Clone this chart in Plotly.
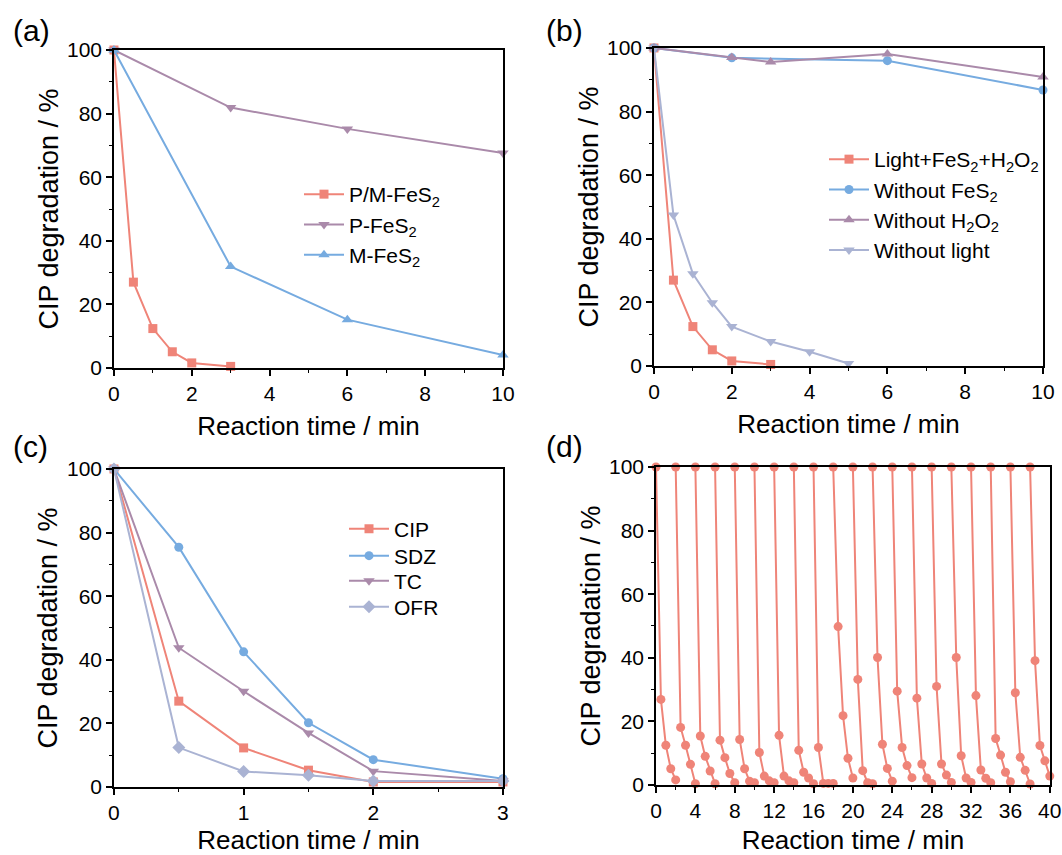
import plotly.graph_objects as go

# ---------------- data ----------------
# (a)
a_x_pm = [0, 0.5, 1, 1.5, 2, 3]
a_y_pm = [100, 27.0, 12.4, 5.1, 1.6, 0.5]
a_x_p = [0, 3, 6, 10]
a_y_p = [100, 81.9, 75.2, 67.6]
a_x_m = [0, 3, 6, 10]
a_y_m = [100, 31.9, 15.2, 4.1]

# (b)
b_x_light = [0, 0.5, 1, 1.5, 2, 3]
b_y_light = [100, 27.0, 12.4, 5.1, 1.6, 0.5]
b_x_nofes2 = [0, 2, 6, 10]
b_y_nofes2 = [100, 96.9, 96.0, 86.8]
b_x_noh2o2 = [0, 2, 3, 6, 10]
b_y_noh2o2 = [100, 97.0, 95.6, 98.1, 90.9]
b_x_nolight = [0, 0.5, 1, 1.5, 2, 3, 4, 5]
b_y_nolight = [100, 47.5, 29.0, 19.9, 12.4, 7.7, 4.5, 0.8]

# (c)
c_x = [0, 0.5, 1, 1.5, 2, 3]
c_y_cip = [100, 27.0, 12.3, 5.3, 1.6, 1.6]
c_y_sdz = [100, 75.4, 42.5, 20.2, 8.6, 2.6]
c_y_tc = [100, 43.8, 30.1, 17.0, 5.0, 1.9]
c_y_ofr = [100, 12.4, 4.9, 3.7, 1.9, 1.9]

# (d) 20 cycles, each sampled at 0, 0.5, 1, 1.5, 2 min (offset 2 min per cycle)
d_cycle_times = [0, 0.5, 1, 1.5, 2]
d_cycle_starts = [0, 2, 4, 6, 8, 10, 12, 14, 16, 18, 20, 22, 24, 26, 28, 30, 32, 34, 36, 38]
d_cycle_values = [
    [100, 26.9, 12.5, 5.1, 1.6],
    [100, 18.1, 12.5, 6.5, 0.4],
    [100, 15.4, 9.0, 4.4, 0.4],
    [100, 14.1, 8.6, 3.6, 0.7],
    [100, 14.3, 5.1, 1.2, 0.7],
    [100, 10.2, 2.8, 1.3, 0.7],
    [100, 15.6, 2.8, 1.3, 0.7],
    [100, 10.9, 4.0, 2.2, 0.4],
    [100, 11.8, 0.5, 0.5, 0.5],
    [100, 49.8, 21.8, 8.4, 2.2],
    [100, 33.2, 4.5, 0.7, 0.4],
    [100, 40.1, 12.8, 5.2, 1.2],
    [100, 29.5, 11.8, 6.1, 2.3],
    [100, 27.3, 6.6, 2.2, 0.5],
    [100, 31.0, 6.6, 3.1, 0.8],
    [100, 40.1, 9.2, 2.2, 0.8],
    [100, 28.1, 4.7, 2.1, 0.7],
    [100, 14.6, 9.4, 4.0, 1.0],
    [100, 29.0, 8.7, 4.6, 0.3],
    [100, 39.1, 12.4, 7.6, 2.8],
]

# ---------------- style ----------------
RED = "#EF8478"
BLUE = "#76ABE0"
PURPLE = "#AA8AAA"
LAV = "#AAB3D3"
FONT = "Liberation Sans, Arial, sans-serif"

fig = go.Figure()


def add(x, y, color, symbol, name, xa, ya, legend, size=9, show=True):
    fig.add_trace(go.Scatter(
        x=x, y=y, mode="lines+markers", name=name,
        line=dict(color=color, width=2),
        marker=dict(color=color, symbol=symbol, size=size, line=dict(width=0)),
        xaxis=xa, yaxis=ya, legend=legend, showlegend=show, cliponaxis=False,
    ))


# (a)
add(a_x_pm, a_y_pm, RED, "square", "P/M-FeS<sub>2</sub>", "x", "y", "legend")
add(a_x_p, a_y_p, PURPLE, "triangle-down", "P-FeS<sub>2</sub>", "x", "y", "legend", size=10)
add(a_x_m, a_y_m, BLUE, "triangle-up", "M-FeS<sub>2</sub>", "x", "y", "legend", size=10)

# (b)
add(b_x_light, b_y_light, RED, "square", "Light+FeS<sub>2</sub>+H<sub>2</sub>O<sub>2</sub>", "x2", "y2", "legend2")
add(b_x_nofes2, b_y_nofes2, BLUE, "circle", "Without FeS<sub>2</sub>", "x2", "y2", "legend2")
add(b_x_noh2o2, b_y_noh2o2, PURPLE, "triangle-up", "Without H<sub>2</sub>O<sub>2</sub>", "x2", "y2", "legend2", size=10)
add(b_x_nolight, b_y_nolight, LAV, "triangle-down", "Without light", "x2", "y2", "legend2", size=10)

# (c) - one legend per entry so the spacing can match
add(c_x, c_y_cip, RED, "square", "CIP", "x3", "y3", "legend3")
add(c_x, c_y_sdz, BLUE, "circle", "SDZ", "x3", "y3", "legend4")
add(c_x, c_y_tc, PURPLE, "triangle-down", "TC", "x3", "y3", "legend5", size=10)
add(c_x, c_y_ofr, LAV, "diamond", "OFR", "x3", "y3", "legend6", size=10)

# (d)
d_x, d_y = [], []
for start, vals in zip(d_cycle_starts, d_cycle_values):
    d_x += [start + t for t in d_cycle_times] + [None]
    d_y += list(vals) + [None]
fig.add_trace(go.Scatter(
    x=d_x, y=d_y, mode="lines+markers", name="cycles",
    line=dict(color=RED, width=2), connectgaps=False,
    marker=dict(color=RED, symbol="circle", size=9, line=dict(width=0)),
    xaxis="x4", yaxis="y4", showlegend=False, cliponaxis=False,
))

TICKSIZE = 21


# ---------------- axes ----------------
def xaxis(domain, rng, dtick, mdtick, anchor):
    return dict(domain=domain, range=rng, dtick=dtick, tick0=0, anchor=anchor,
                showline=True, mirror=True, linecolor="black", linewidth=1.5,
                ticks="outside", ticklen=6, tickwidth=1.5, tickcolor="black",
                minor=dict(ticks="outside", ticklen=3, tickwidth=1.2, tickcolor="black", dtick=mdtick, tick0=0),
                showgrid=False, zeroline=False, automargin=False, ticklabeloverflow="allow",
                tickfont=dict(family=FONT, size=TICKSIZE, color="black"),
                title=dict(text="Reaction time / min", font=dict(family=FONT, size=26, color="black"), standoff=13))


def yaxis(domain, anchor):
    return dict(domain=domain, range=[0, 100], dtick=20, tick0=0, anchor=anchor,
                showline=True, mirror=True, linecolor="black", linewidth=1.5,
                ticks="outside", ticklen=6, tickwidth=1.5, tickcolor="black",
                minor=dict(ticks="outside", ticklen=3, tickwidth=1.2, tickcolor="black", dtick=10, tick0=0),
                showgrid=False, zeroline=False, automargin=False, ticklabeloverflow="allow",
                tickfont=dict(family=FONT, size=TICKSIZE, color="black"),
                title=dict(text="CIP degradation / %", font=dict(family=FONT, size=27, color="black"), standoff=1))


LEGFONT = dict(family=FONT, size=21, color="black")


def leg(xpx, ypx, anchor="top"):
    return dict(x=xpx / 1062, y=1 - ypx / 855, xanchor="left", yanchor=anchor,
                bgcolor="rgba(0,0,0,0)", font=LEGFONT, itemwidth=40)


fig.update_layout(
    width=1062, height=855, autosize=False,
    margin=dict(l=0, r=0, t=0, b=0, autoexpand=False),
    paper_bgcolor="white", plot_bgcolor="white",
    font=dict(family=FONT, color="black"),
    xaxis=xaxis([0.1073, 0.4736], [0, 10], 2, 1, "y"),
    yaxis=yaxis([0.5696, 0.9415], "x"),
    xaxis2=xaxis([0.6158, 0.9821], [0, 10], 2, 1, "y2"),
    yaxis2=yaxis([0.5719, 0.9439], "x2"),
    xaxis3=xaxis([0.1073, 0.4736], [0, 3], 1, 0.5, "y3"),
    yaxis3=yaxis([0.0795, 0.4515], "x3"),
    xaxis4=xaxis([0.6177, 0.9885], [0, 40], 4, 2, "y4"),
    yaxis4=yaxis([0.0819, 0.4538], "x4"),
    legend=leg(299, 174),
    legend2=leg(824, 139),
    legend3=leg(344, 529, "middle"),
    legend4=leg(344, 556, "middle"),
    legend5=leg(344, 581, "middle"),
    legend6=leg(344, 607, "middle"),
    showlegend=True,
)

for txt, xp, yp in [("(a)", 11, 30), ("(b)", 544, 30), ("(c)", 11, 447), ("(d)", 544, 447)]:
    fig.add_annotation(text=txt, x=xp / 1062, y=1 - yp / 855, xref="paper", yref="paper",
                       xanchor="left", yanchor="middle", showarrow=False,
                       font=dict(family=FONT, size=30, color="black"))

fig.write_html(
    "out.html",
    config={"displayModeBar": False},
    post_script="document.body.style.margin='0';document.body.style.overflow='hidden';",
)
